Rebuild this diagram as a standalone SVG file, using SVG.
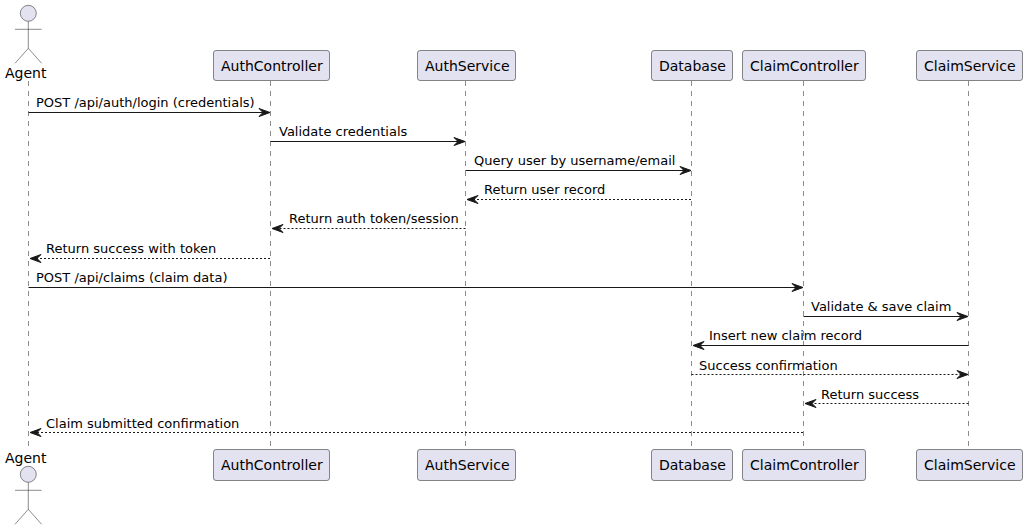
<svg xmlns="http://www.w3.org/2000/svg" width="1027" height="530" viewBox="0 0 1027 530">
<style>
text{font-family:"DejaVu Sans",sans-serif;fill:#000}
.p{font-size:14px}
.m{font-size:13px}
.b{fill:#E2E2F0;stroke:#181818;stroke-width:.5}
.a{fill:#E2E2F0;stroke:#181818;stroke-width:.5}
.l{stroke:#181818;stroke-width:.5;stroke-dasharray:5 5;fill:none}
.s{stroke:#181818;stroke-width:1;fill:none}
.d{stroke:#181818;stroke-width:1;stroke-dasharray:2 2;fill:none}
.h{fill:#181818;stroke:#181818;stroke-width:1}
</style>
<defs>
<g id="actor"><circle class="a" cx="28.3" cy="13.3" r="8"/><path class="a" style="fill:none" d="M28.3 21.3V48.3M15 29.3H41.6M28.3 48.3L15 63.3M28.3 48.3L41.6 63.3"/></g>
<polygon id="R" class="h" points="-11,-4 0,0 -11,4 -7,0"/>
<polygon id="L" class="h" points="11,-4 0,0 11,4 7,0"/>
</defs>
<g id="lifelines">
<line class="l" x1="28.5" y1="81" x2="28.5" y2="449"/>
<line class="l" x1="270.5" y1="81" x2="270.5" y2="449"/>
<line class="l" x1="465.5" y1="81" x2="465.5" y2="449"/>
<line class="l" x1="691.5" y1="81" x2="691.5" y2="449"/>
<line class="l" x1="803.5" y1="81" x2="803.5" y2="449"/>
<line class="l" x1="968.5" y1="81" x2="968.5" y2="449"/>
</g>
<g id="connectors">
<line class="s" x1="28.5" y1="112.5" x2="265" y2="112.5"/><use href="#R" x="270" y="112.5"/>
<text class="m" x="36" y="107">POST /api/auth/login (credentials)</text>
<line class="s" x1="270.5" y1="141.5" x2="460" y2="141.5"/><use href="#R" x="465" y="141.5"/>
<text class="m" x="279" y="136">Validate credentials</text>
<line class="s" x1="465.5" y1="170.5" x2="686" y2="170.5"/><use href="#R" x="691" y="170.5"/>
<text class="m" x="474" y="165">Query user by username/email</text>
<line class="d" x1="691" y1="199.5" x2="472" y2="199.5"/><use href="#L" x="467" y="199.5"/>
<text class="m" x="484" y="194">Return user record</text>
<line class="d" x1="465.5" y1="228.5" x2="277" y2="228.5"/><use href="#L" x="272" y="228.5"/>
<text class="m" x="289" y="223">Return auth token/session</text>
<line class="d" x1="270" y1="258.5" x2="35" y2="258.5"/><use href="#L" x="30" y="258.5"/>
<text class="m" x="46" y="253">Return success with token</text>
<line class="s" x1="28.5" y1="287.5" x2="798" y2="287.5"/><use href="#R" x="803" y="287.5"/>
<text class="m" x="36" y="282">POST /api/claims (claim data)</text>
<line class="s" x1="803.5" y1="316.5" x2="963" y2="316.5"/><use href="#R" x="968" y="316.5"/>
<text class="m" x="811" y="311">Validate &amp; save claim</text>
<line class="s" x1="968.5" y1="345.5" x2="698" y2="345.5"/><use href="#L" x="693" y="345.5"/>
<text class="m" x="709" y="340">Insert new claim record</text>
<line class="d" x1="691.5" y1="374.5" x2="963" y2="374.5"/><use href="#R" x="968" y="374.5"/>
<text class="m" x="699" y="370">Success confirmation</text>
<line class="d" x1="968.5" y1="403.5" x2="810" y2="403.5"/><use href="#L" x="805" y="403.5"/>
<text class="m" x="821" y="399">Return success</text>
<line class="d" x1="803" y1="432.5" x2="35" y2="432.5"/><use href="#L" x="30" y="432.5"/>
<text class="m" x="46" y="428">Claim submitted confirmation</text>
</g>
<g id="agent-top"><use href="#actor"/><text class="p" x="5" y="78">Agent</text></g>
<g id="agent-bottom"><use href="#actor" y="461"/><text class="p" x="5" y="463">Agent</text></g>
<g id="authcontroller-top"><rect class="b" x="213.5" y="50.5" width="116" height="30" rx="2.5"/><text class="p" x="221" y="71">AuthController</text></g>
<g id="authservice-top"><rect class="b" x="417.5" y="50.5" width="98" height="30" rx="2.5"/><text class="p" x="425" y="71">AuthService</text></g>
<g id="database-top"><rect class="b" x="651.5" y="50.5" width="81" height="30" rx="2.5"/><text class="p" x="659" y="71">Database</text></g>
<g id="claimcontroller-top"><rect class="b" x="742.5" y="50.5" width="123" height="30" rx="2.5"/><text class="p" x="750" y="71">ClaimController</text></g>
<g id="claimservice-top"><rect class="b" x="916.5" y="50.5" width="106" height="30" rx="2.5"/><text class="p" x="924" y="71">ClaimService</text></g>
<g id="authcontroller-bottom"><rect class="b" x="213.5" y="449.5" width="116" height="31" rx="2.5"/><text class="p" x="221" y="470">AuthController</text></g>
<g id="authservice-bottom"><rect class="b" x="417.5" y="449.5" width="98" height="31" rx="2.5"/><text class="p" x="425" y="470">AuthService</text></g>
<g id="database-bottom"><rect class="b" x="651.5" y="449.5" width="81" height="31" rx="2.5"/><text class="p" x="659" y="470">Database</text></g>
<g id="claimcontroller-bottom"><rect class="b" x="742.5" y="449.5" width="123" height="31" rx="2.5"/><text class="p" x="750" y="470">ClaimController</text></g>
<g id="claimservice-bottom"><rect class="b" x="916.5" y="449.5" width="106" height="31" rx="2.5"/><text class="p" x="924" y="470">ClaimService</text></g>
</svg>
